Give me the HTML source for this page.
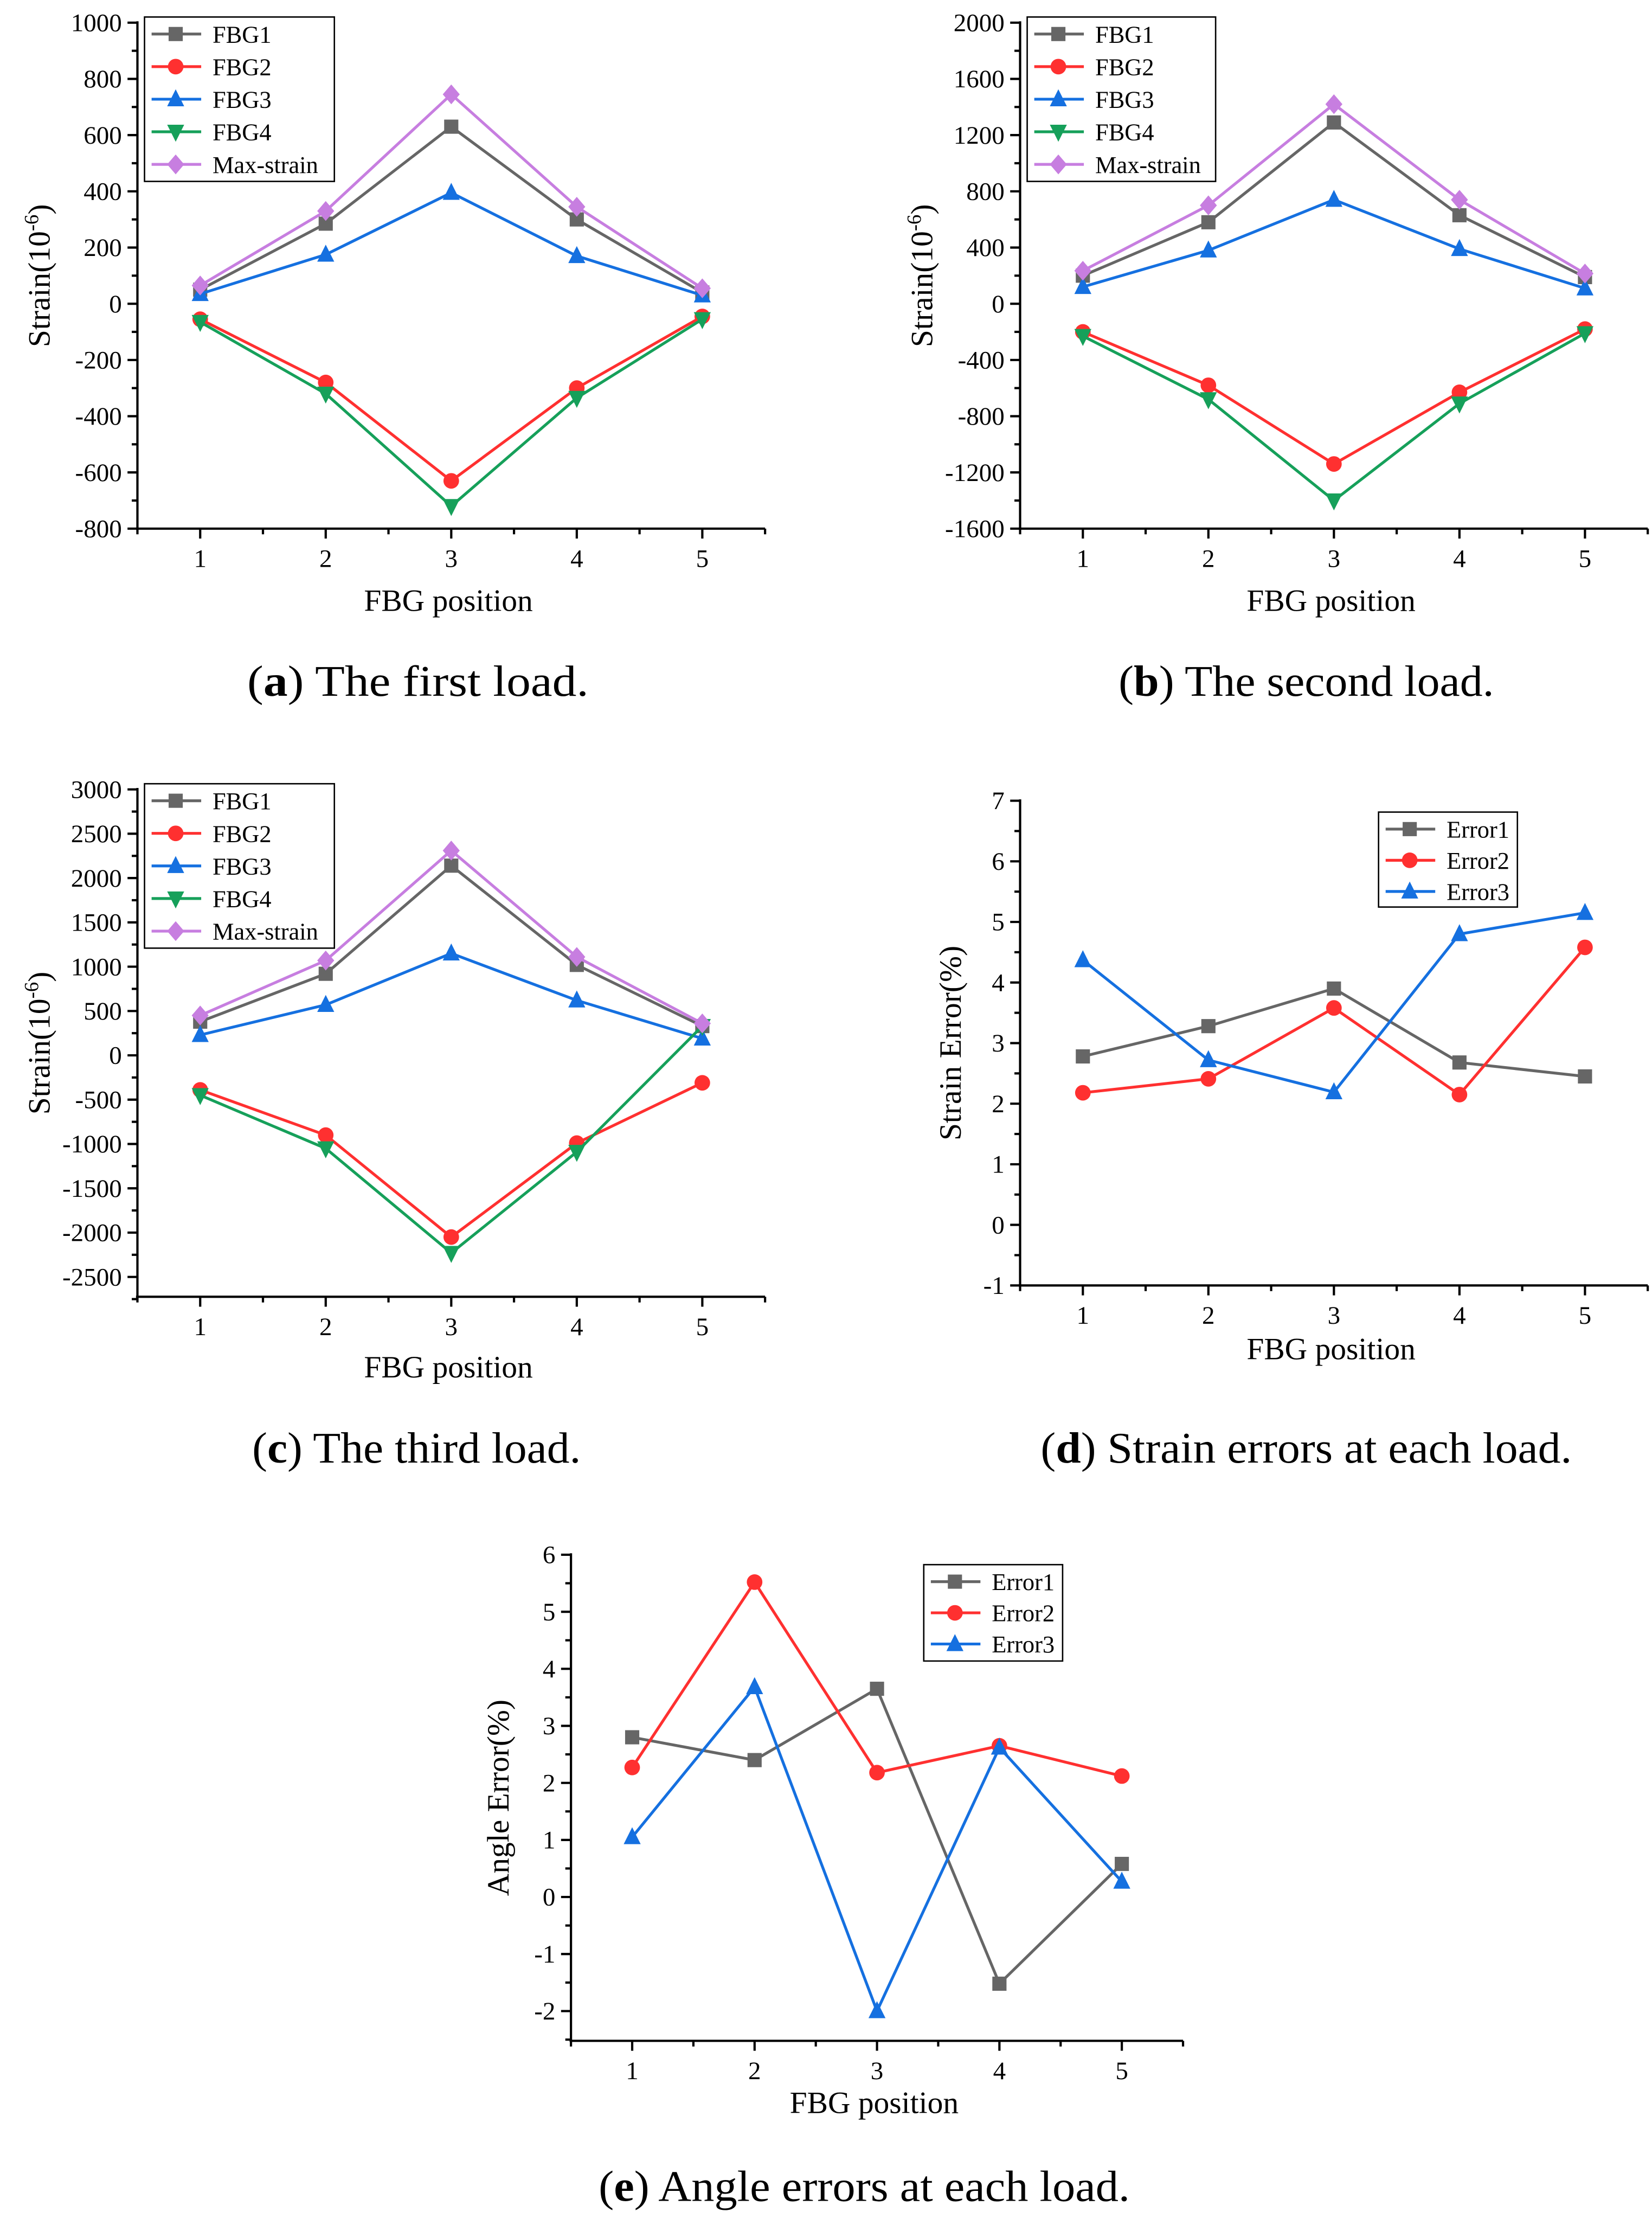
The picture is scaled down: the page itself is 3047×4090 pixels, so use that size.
<!DOCTYPE html>
<html><head><meta charset="utf-8"><style>
html,body{margin:0;padding:0;background:#fff;}
svg{display:block;font-family:"Liberation Serif",serif;}
</style></head><body>
<svg id="fig" width="3047" height="4090" viewBox="0 0 1166 1565" preserveAspectRatio="none" xmlns="http://www.w3.org/2000/svg">
<rect width="1166" height="1565" fill="#fff"/>
<g><text x="295" y="491" font-size="31" text-anchor="middle" textLength="241" lengthAdjust="spacingAndGlyphs">(<tspan font-weight="bold">a</tspan>) The first load.</text></g>
<g><text x="922" y="491" font-size="31" text-anchor="middle" textLength="265" lengthAdjust="spacingAndGlyphs">(<tspan font-weight="bold">b</tspan>) The second load.</text></g>
<g><text x="294" y="1032" font-size="31" text-anchor="middle" textLength="232" lengthAdjust="spacingAndGlyphs">(<tspan font-weight="bold">c</tspan>) The third load.</text></g>
<g><text x="922" y="1032" font-size="31" text-anchor="middle" textLength="375" lengthAdjust="spacingAndGlyphs">(<tspan font-weight="bold">d</tspan>) Strain errors at each load.</text></g>
<g><text x="610" y="1553" font-size="31" text-anchor="middle" textLength="375" lengthAdjust="spacingAndGlyphs">(<tspan font-weight="bold">e</tspan>) Angle errors at each load.</text></g>
</svg>
<script>
// ---- data ----
const positions = [1, 2, 3, 4, 5];
const fbgNames = ["FBG1", "FBG2", "FBG3", "FBG4", "Max-strain"];
const errNames = ["Error1", "Error2", "Error3"];

const aFBG1 = [50, 285, 630, 300, 40];
const aFBG2 = [-55, -280, -630, -300, -45];
const aFBG3 = [35, 175, 395, 170, 30];
const aFBG4 = [-65, -320, -720, -335, -55];
const aMax = [65, 330, 745, 345, 55];
const aTicks = [-800, -600, -400, -200, 0, 200, 400, 600, 800, 1000];

const bFBG1 = [200, 580, 1290, 630, 190];
const bFBG2 = [-200, -580, -1140, -630, -180];
const bFBG3 = [120, 380, 740, 390, 110];
const bFBG4 = [-230, -680, -1400, -710, -210];
const bMax = [235, 700, 1420, 740, 215];
const bTicks = [-1600, -1200, -800, -400, 0, 400, 800, 1200, 1600, 2000];

const cFBG1 = [380, 920, 2140, 1020, 330];
const cFBG2 = [-390, -900, -2050, -990, -310];
const cFBG3 = [230, 570, 1150, 620, 190];
const cFBG4 = [-450, -1050, -2230, -1090, 330];
const cMax = [450, 1070, 2310, 1110, 360];
const cTicks = [-2500, -2000, -1500, -1000, -500, 0, 500, 1000, 1500, 2000, 2500, 3000];

const dErr1 = [2.78, 3.28, 3.9, 2.68, 2.45];
const dErr2 = [2.18, 2.41, 3.58, 2.15, 4.58];
const dErr3 = [4.37, 2.72, 2.19, 4.8, 5.15];
const dTicks = [-1, 0, 1, 2, 3, 4, 5, 6, 7];

const eErr1 = [2.8, 2.4, 3.65, -1.52, 0.58];
const eErr2 = [2.27, 5.52, 2.18, 2.65, 2.12];
const eErr3 = [1.05, 3.68, -2.0, 2.62, 0.27];
const eTicks = [-2, -1, 0, 1, 2, 3, 4, 5, 6];

// ---- drawing ----
const NS = "http://www.w3.org/2000/svg";
const svg = document.getElementById("fig");
const COLORS = ["#666666", "#ff3030", "#1570e0", "#16a05a", "#c77ee0"];
const MARKERS = ["square", "circle", "up", "down", "diamond"];

function mk(tag, attrs, parent) {
  const e = document.createElementNS(NS, tag);
  for (const k in attrs) e.setAttribute(k, attrs[k]);
  parent.appendChild(e);
  return e;
}
function marker(g, type, x, y, c) {
  const r = 6;
  let el;
  if (type === "square") el = mk("rect", {x: x - 5, y: y - 5, width: 10, height: 10, fill: c}, g);
  else if (type === "circle") el = mk("circle", {cx: x, cy: y, r: 5.5, fill: c}, g);
  else if (type === "up") el = mk("polygon", {points: `${x},${y - r - 1} ${x - r},${y + r - 1} ${x + r},${y + r - 1}`, fill: c}, g);
  else if (type === "down") el = mk("polygon", {points: `${x},${y + r + 1} ${x - r},${y - r + 1} ${x + r},${y - r + 1}`, fill: c}, g);
  else el = mk("polygon", {points: `${x},${y - r - 1} ${x + r},${y} ${x},${y + r + 1} ${x - r},${y}`, fill: c}, g);
  return el;
}

function chart(cfg) {
  const g = mk("g", {}, svg);
  
  
  const sx = v => cfg.x0 + (v - 0.5) / 5 * (cfg.x1 - cfg.x0);
  const sy = v => cfg.yTop + (cfg.ymax - v) / (cfg.ymax - cfg.ymin) * (cfg.yBot - cfg.yTop);
  const ax = mk("g", {stroke: "#000", "stroke-width": 1.6}, g);
  
  
  mk("line", {x1: cfg.x0, y1: cfg.yTop - 1, x2: cfg.x0, y2: cfg.axisBot}, ax);
  mk("line", {x1: cfg.x0 - 1, y1: cfg.axisBot, x2: cfg.x1, y2: cfg.axisBot}, ax);
  const ticks = cfg.ticks;
  const step = ticks[1] - ticks[0];
  ticks.forEach((t, i) => {
    const y = sy(t);
    mk("line", {x1: cfg.x0 - 7, y1: y, x2: cfg.x0, y2: y}, ax);
    if (i < ticks.length - 1) { const ym = sy(t + step / 2); mk("line", {x1: cfg.x0 - 4, y1: ym, x2: cfg.x0, y2: ym}, ax); }
    const tl = mk("text", {x: cfg.x0 - 11, y: y + 6, "font-size": 18, "text-anchor": "end", stroke: "none"}, g);
    
    
    tl.textContent = t;
  });
  if (cfg.axisBot > sy(ticks[0]) + 3) { const ym = sy(ticks[0] - step / 2); mk("line", {x1: cfg.x0 - 4, y1: ym, x2: cfg.x0, y2: ym}, ax); }
  positions.forEach(p => {
    const x = sx(p);
    mk("line", {x1: x, y1: cfg.axisBot, x2: x, y2: cfg.axisBot + 7}, ax);
    const xm = sx(p - 0.5);
    mk("line", {x1: xm, y1: cfg.axisBot, x2: xm, y2: cfg.axisBot + 4}, ax);
    const tl = mk("text", {x: x, y: cfg.axisBot + 27, "font-size": 18, "text-anchor": "middle"}, g);
    
    
    tl.textContent = p;
  });
  mk("line", {x1: sx(5.5), y1: cfg.axisBot, x2: sx(5.5), y2: cfg.axisBot + 4}, ax);
  const xt = mk("text", {x: (cfg.x0 + cfg.x1) / 2 - 2, y: cfg.axisBot + cfg.xtOff, "font-size": 22, "text-anchor": "middle"}, g);
  
  
  xt.textContent = "FBG position";
  const ymid = (cfg.yTop + cfg.axisBot) / 2;
  const yt = mk("text", {x: 0, y: 0, "font-size": 22, "text-anchor": "middle", transform: `translate(${cfg.x0 - cfg.ytOff},${ymid}) rotate(-90)`}, g);
  
  
  if (cfg.strain) {
    yt.textContent = "Strain(10";
    const sup = mk("tspan", {"font-size": 14, dy: -8}, yt); sup.textContent = "-6";
    const cl = mk("tspan", {dy: 8}, yt); cl.textContent = ")";
  } else yt.textContent = cfg.ytitle;
  cfg.series.forEach((vals, si) => {
    const sg = mk("g", {}, g);
    
    
    const pts = vals.map((v, i) => sx(positions[i]) + "," + sy(v)).join(" ");
    mk("polyline", {points: pts, fill: "none", stroke: COLORS[si], "stroke-width": 2}, sg);
    vals.forEach((v, i) => {
      const m = marker(sg, MARKERS[si], sx(positions[i]), sy(v), COLORS[si]);
      
      
    });
  });
  const L = cfg.legend;
  const lg = mk("g", {}, g);
  
  
  mk("rect", {x: L.x, y: L.y, width: L.w, height: L.h, fill: "#fff", stroke: "#000", "stroke-width": 1}, lg);
  cfg.names.forEach((n, i) => {
    const eg = mk("g", {}, lg);
    
    
    const y = L.y + 12 + i * L.dy;
    mk("line", {x1: L.x + 5, y1: y, x2: L.x + 40, y2: y, stroke: COLORS[i], "stroke-width": 2}, eg);
    marker(eg, MARKERS[i], L.x + 22, y, COLORS[i]);
    const t = mk("text", {x: L.x + 48, y: y + 6, "font-size": 17}, eg);
    t.textContent = n;
  });
}

chart({name: "chart-a-first-load", x0: 97, x1: 540, yTop: 16, yBot: 373, axisBot: 373, ymin: -800, ymax: 1000, ticks: aTicks,
  strain: true, xtOff: 58, ytOff: 62, names: fbgNames, series: [aFBG1, aFBG2, aFBG3, aFBG4, aMax], legend: {x: 102, y: 12, w: 134, h: 116, dy: 23}});
chart({name: "chart-b-second-load", x0: 720, x1: 1163, yTop: 16, yBot: 373, axisBot: 373, ymin: -1600, ymax: 2000, ticks: bTicks,
  strain: true, xtOff: 58, ytOff: 62, names: fbgNames, series: [bFBG1, bFBG2, bFBG3, bFBG4, bMax], legend: {x: 725, y: 12, w: 133, h: 116, dy: 23}});
chart({name: "chart-c-third-load", x0: 97, x1: 540, yTop: 557, yBot: 901, axisBot: 915, ymin: -2500, ymax: 3000, ticks: cTicks,
  strain: true, xtOff: 57, ytOff: 62, names: fbgNames, series: [cFBG1, cFBG2, cFBG3, cFBG4, cMax], legend: {x: 102, y: 553, w: 134, h: 116, dy: 23}});
chart({name: "chart-d-strain-errors", x0: 720, x1: 1163, yTop: 565, yBot: 907, axisBot: 907, ymin: -1, ymax: 7, ticks: dTicks,
  ytitle: "Strain Error(%)", xtOff: 52, ytOff: 42, names: errNames, series: [dErr1, dErr2, dErr3], legend: {x: 973, y: 573, w: 98, h: 67, dy: 22}});
chart({name: "chart-e-angle-errors", x0: 403, x1: 835, yTop: 1097, yBot: 1419, axisBot: 1440, ymin: -2, ymax: 6, ticks: eTicks,
  ytitle: "Angle Error(%)", xtOff: 51, ytOff: 44, names: errNames, series: [eErr1, eErr2, eErr3], legend: {x: 652, y: 1104, w: 98, h: 68, dy: 22}})
</script>
</body></html>
